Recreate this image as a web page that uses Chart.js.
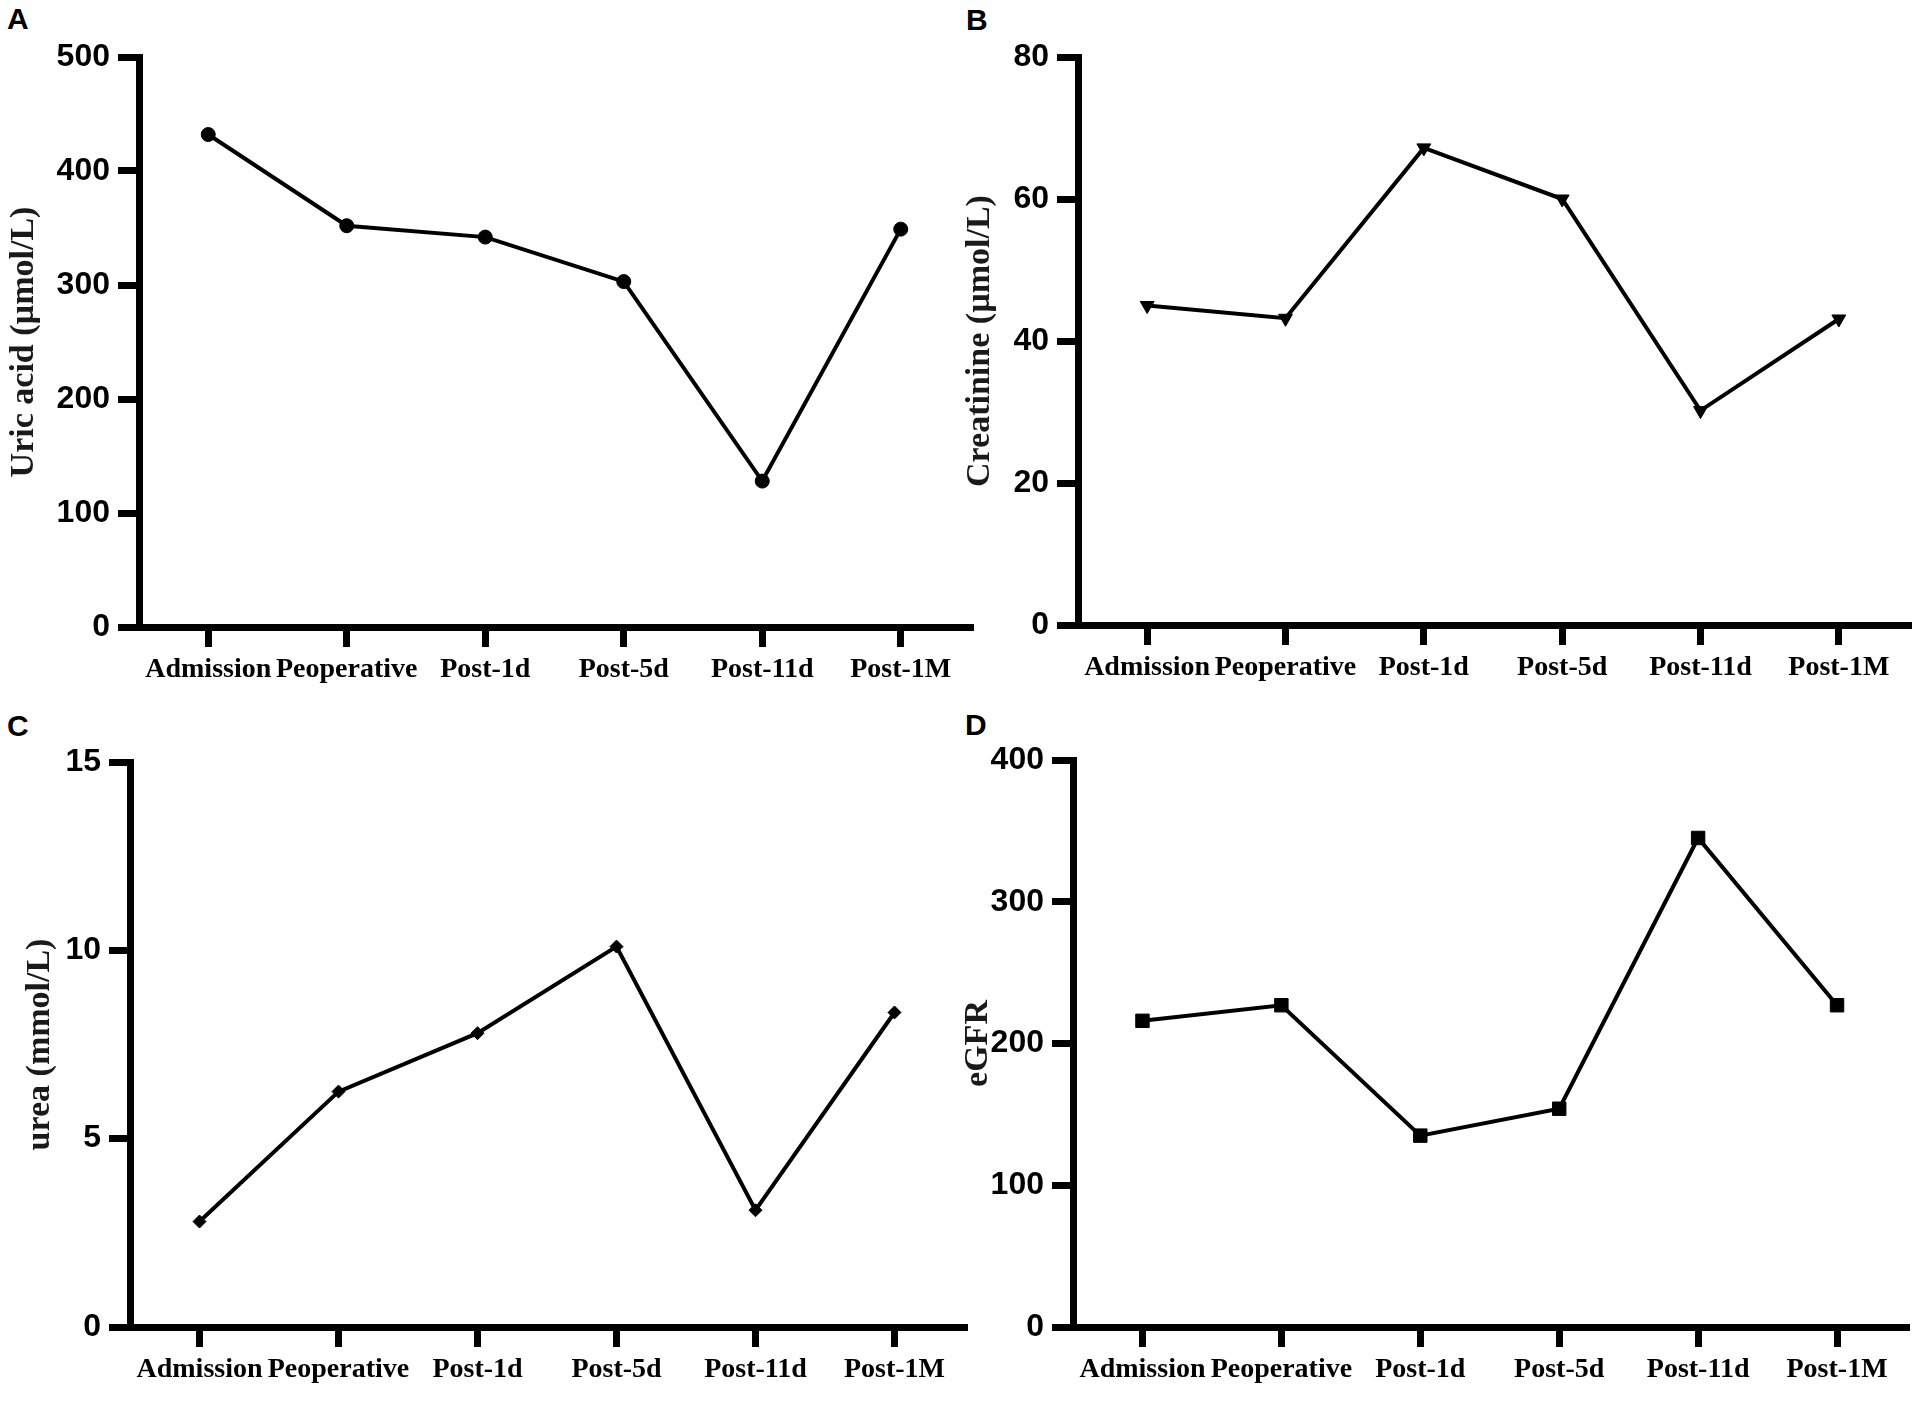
<!DOCTYPE html>
<html>
<head>
<meta charset="utf-8">
<title>Renal function over time</title>
<script src="https://cdn.jsdelivr.net/npm/chart.js@4.4.1/dist/chart.umd.min.js"></script>
<style>
  html, body { margin: 0; padding: 0; background: #fff; }
  body { width: 1917px; height: 1405px; position: relative; overflow: hidden; }
  .panel { position: absolute; }
  .letter {
    position: absolute;
    font-family: "Liberation Sans", Arial, sans-serif;
    font-weight: bold;
    font-size: 30px;
    line-height: 30px;
    color: #000;
  }
</style>
</head>
<body>
<div class="letter" style="left:7px; top:4px;">A</div>
<div class="letter" style="left:966px; top:5px;">B</div>
<div class="letter" style="left:7px; top:711px;">C</div>
<div class="letter" style="left:965px; top:710px;">D</div>

<div class="panel" id="panelA" style="left:0px; top:0px; width:990px; height:700px;"><canvas id="chartA"></canvas></div>
<div class="panel" id="panelB" style="left:940px; top:0px; width:977px; height:700px;"><canvas id="chartB"></canvas></div>
<div class="panel" id="panelC" style="left:0px; top:700px; width:990px; height:705px;"><canvas id="chartC"></canvas></div>
<div class="panel" id="panelD" style="left:940px; top:700px; width:977px; height:705px;"><canvas id="chartD"></canvas></div>

<script>
// Time points (same for all four panels)
const timePoints = ["Admission", "Peoperative", "Post-1d", "Post-5d", "Post-11d", "Post-1M"];

// Values
const uricAcid = [432, 352, 342, 303, 128, 349];
const creatinine = [45, 43.2, 67.2, 60, 30.2, 43.1];
const urea = [2.8, 6.25, 7.8, 10.1, 3.1, 8.35];
const eGFR = [216, 227, 135, 154, 345, 227];

// Y axis tick values
const uricTicks = [0, 100, 200, 300, 400, 500];
const creatinineTicks = [0, 20, 40, 60, 80];
const ureaTicks = [0, 5, 10, 15];
const eGFRTicks = [0, 100, 200, 300, 400];

const serif = "'Liberation Serif', 'Times New Roman', serif";
const sans = "'Liberation Sans', Arial, sans-serif";

// Draw one GraphPad-style panel
function drawPanel(canvasId, values, yTicks, yTitle, marker, box) {
  const ctx = document.getElementById(canvasId).getContext('2d');
  const points = values.map((v, i) => ({ x: i, y: v }));

  return new Chart(ctx, {
    type: 'line',
    data: {
      datasets: [{
        data: points,
        borderColor: '#000',
        borderWidth: 4,
        tension: 0,
        pointStyle: marker.style,
        pointRotation: marker.rotation || 0,
        pointRadius: marker.radius,
        pointHoverRadius: marker.radius,
        pointBackgroundColor: '#000',
        pointBorderColor: '#000',
        pointBorderWidth: 1,
        clip: false
      }]
    },
    options: {
      responsive: true,
      maintainAspectRatio: false,
      animation: false,
      events: [],
      layout: {
        padding: { left: 0, top: box.top, right: box.right, bottom: 0 }
      },
      plugins: {
        legend: { display: false },
        tooltip: { enabled: false }
      },
      scales: {
        x: {
          type: 'linear',
          min: -0.5,
          max: 5.5,
          afterFit: s => { s.height = box.xHeight; },
          afterBuildTicks: s => { s.ticks = timePoints.map((_, i) => ({ value: i })); },
          border: { display: true, color: '#000', width: 7 },
          grid: { drawOnChartArea: false, drawTicks: true, tickLength: 20, color: '#000', lineWidth: 7 },
          ticks: {
            autoSkip: false,
            maxRotation: 0,
            minRotation: 0,
            padding: 6,
            color: '#000',
            font: { family: serif, weight: 'bold', size: 28 },
            callback: v => timePoints[v]
          }
        },
        y: {
          min: yTicks[0],
          max: yTicks[yTicks.length - 1],
          afterFit: s => { s.width = box.yWidth; },
          afterBuildTicks: s => { s.ticks = yTicks.map(v => ({ value: v })); },
          border: { display: true, color: '#000', width: 7 },
          grid: { drawOnChartArea: false, drawTicks: true, tickLength: 21, color: '#000', lineWidth: 7 },
          ticks: {
            padding: 8,
            color: '#000',
            font: { family: sans, weight: 'bold', size: 32 }
          },
          title: {
            display: true,
            text: yTitle,
            color: '#1a1a1a',
            padding: { top: box.titlePad, bottom: 0 },
            font: { family: serif, weight: 'bold', size: 34, lineHeight: 1.2 }
          }
        }
      }
    }
  });
}

drawPanel('chartA', uricAcid, uricTicks, 'Uric acid (\u00b5mol/L)',
  { style: 'circle', radius: 7 },
  { top: 57, right: 20, xHeight: 73, yWidth: 139, titlePad: 4 });

drawPanel('chartB', creatinine, creatinineTicks, 'Creatinine (\u00b5mol/L)',
  { style: 'triangle', rotation: 180, radius: 8 },
  { top: 57, right: 7, xHeight: 75, yWidth: 138, titlePad: 20 });

drawPanel('chartC', urea, ureaTicks, 'urea (mmol/L)',
  { style: 'rectRot', radius: 6.5 },
  { top: 62, right: 26, xHeight: 78, yWidth: 130, titlePad: 20 });

drawPanel('chartD', eGFR, eGFRTicks, 'eGFR',
  { style: 'rect', radius: 9.5 },
  { top: 60, right: 10, xHeight: 78, yWidth: 133, titlePad: 18 });
</script>
</body>
</html>
